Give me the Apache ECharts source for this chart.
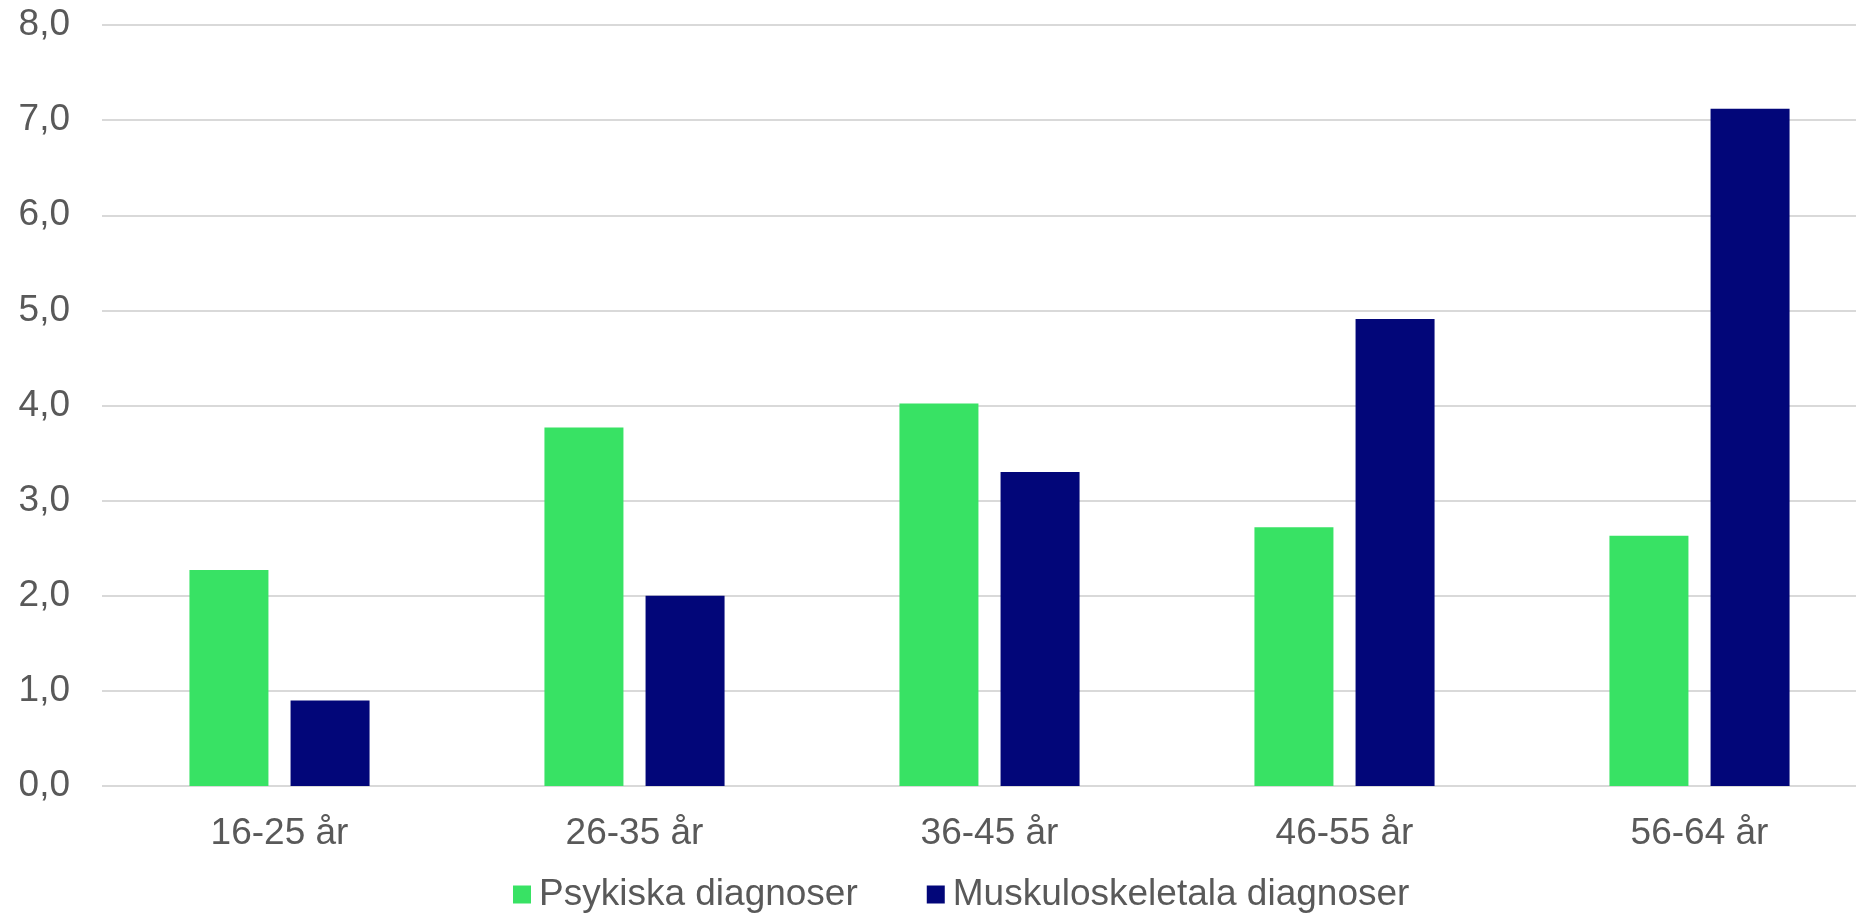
<!DOCTYPE html>
<html>
<head>
<meta charset="utf-8">
<script src="https://cdn.jsdelivr.net/npm/echarts@6/dist/echarts.min.js"></script>
<style>
html,body{margin:0;padding:0;background:#fff;}
#chart{width:1856px;height:916px;}
</style>
</head>
<body>
<div id="chart"></div>
<script>
const categories = ['16-25 år', '26-35 år', '36-45 år', '46-55 år', '56-64 år'];
const seriesNames = ['Psykiska diagnoser', 'Muskuloskeletala diagnoser'];
const psykiska = [2.27, 3.77, 4.02, 2.72, 2.63];
const muskulo = [0.90, 2.00, 3.30, 4.91, 7.12];
const yMin = 0, yMax = 8, yStep = 1;

const FONT = 'Arial, "Liberation Sans", sans-serif';
const TXT = '#595959';

const chart = echarts.init(document.getElementById('chart'), null, {renderer: 'canvas'});
chart.setOption({
  animation: false,
  backgroundColor: '#ffffff',
  textStyle: {fontFamily: FONT},
  grid: {left: 102, top: 25, width: 1775, height: 761, containLabel: false, outerBoundsMode: 'none'},
  legend: {
    data: seriesNames,
    left: 508,
    top: 871,
    itemWidth: 18,
    itemHeight: 18,
    itemGap: 69,
    icon: 'rect',
    textStyle: {fontFamily: FONT, fontSize: 37, color: TXT, padding: [0, 0, 0, 3]}
  },
  xAxis: {
    type: 'category',
    data: categories,
    axisLine: {show: false},
    axisTick: {show: false},
    axisLabel: {fontFamily: FONT, fontSize: 37, color: TXT, margin: 29}
  },
  yAxis: {
    type: 'value',
    min: yMin,
    max: yMax,
    interval: yStep,
    axisLine: {show: false},
    axisTick: {show: false},
    axisLabel: {
      fontFamily: FONT, fontSize: 37, color: TXT, margin: 32,
      padding: [7, 0, 0, 0],
      formatter: v => v.toFixed(1).replace('.', ',')
    },
    splitLine: {lineStyle: {color: '#d9d9d9', width: 2}}
  },
  series: [
    {
      name: seriesNames[0], type: 'bar', data: psykiska,
      barWidth: 79, barGap: '28%',
      itemStyle: {color: '#38E264'}
    },
    {
      name: seriesNames[1], type: 'bar', data: muskulo,
      barWidth: 79, barGap: '28%',
      itemStyle: {color: '#020679'}
    }
  ]
});
</script>
</body>
</html>
